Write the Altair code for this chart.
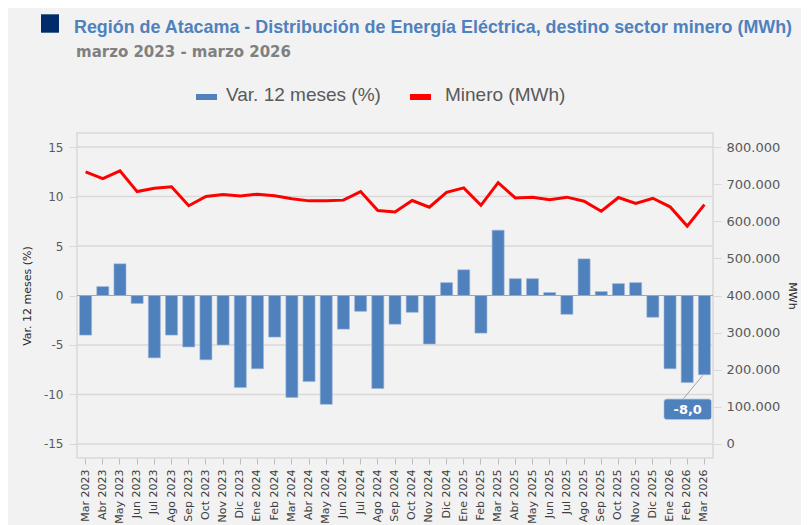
import altair as alt
import pandas as pd

months = ["Mar 2023", "Abr 2023", "May 2023", "Jun 2023", "Jul 2023", "Ago 2023",
          "Sep 2023", "Oct 2023", "Nov 2023", "Dic 2023", "Ene 2024", "Feb 2024",
          "Mar 2024", "Abr 2024", "May 2024", "Jun 2024", "Jul 2024", "Ago 2024",
          "Sep 2024", "Oct 2024", "Nov 2024", "Dic 2024", "Ene 2025", "Feb 2025",
          "Mar 2025", "Abr 2025", "May 2025", "Jun 2025", "Jul 2025", "Ago 2025",
          "Sep 2025", "Oct 2025", "Nov 2025", "Dic 2025", "Ene 2026", "Feb 2026",
          "Mar 2026"]

var_pct = [-4.0, 0.9, 3.2, -0.8, -6.3, -4.0, -5.2, -6.5, -5.0, -9.3, -7.4, -4.2,
           -10.3, -8.7, -11.0, -3.4, -1.6, -9.4, -2.9, -1.7, -4.9, 1.3, 2.6, -3.8,
           6.6, 1.7, 1.7, 0.3, -1.9, 3.7, 0.4, 1.2, 1.3, -2.2, -7.4, -8.8, -8.0]

minero = [733000, 715000, 736000, 680000, 689000, 693000, 642000, 667000, 672000,
          668000, 673000, 669000, 661000, 655000, 655000, 657000, 680000, 629000,
          625000, 656000, 638000, 678000, 690000, 643000, 704000, 663000, 665000,
          658000, 665000, 654000, 627000, 664000, 648000, 662000, 639000, 587000,
          645000]

left_ticks = [-15, -10, -5, 0, 5, 10, 15]
right_ticks = [0, 100000, 200000, 300000, 400000, 500000, 600000, 700000, 800000]

title_text = "Región de Atacama - Distribución de Energía Eléctrica, destino sector minero (MWh)"
subtitle_text = "marzo 2023 - marzo 2026"
legend_labels = ["Var. 12 meses (%)", "Minero (MWh)"]
annot_month = "Mar 2026"
annot_label = "-8,0"

df = pd.DataFrame({"mes": months, "var": var_pct, "minero": minero})
annot_df = df[df["mes"] == annot_month].assign(label=annot_label)
grid_df = pd.DataFrame({"var": [v for v in left_ticks if v != 0]})
one = pd.DataFrame({"k": [0]})

W, H = 636, 325
PL, PT, PR, PB = 69, 125, 88, 67
BLUE = "#4f81bd"
RED = "#ff0000"
GRID = "#d9d9d9"
BG = "#f2f2f2"
AXFONT = "DejaVu Sans"
TXT = "Liberation Sans"

x_enc = alt.X(
    "mes:N", sort=months,
    scale=alt.Scale(paddingInner=0.3, paddingOuter=0.15),
    axis=alt.Axis(title=None, labelAngle=-90, labelFont=AXFONT, labelFontSize=11,
                  labelColor="#404040", tickColor="#bfbfbf", tickSize=6,
                  labelPadding=5, domain=False, grid=False, zindex=1),
)

y_left = alt.Y(
    "var:Q",
    scale=alt.Scale(domain=[-16.42, 16.42], nice=False, zero=False),
    axis=alt.Axis(title="Var. 12 meses (%)", values=left_ticks,
                  labelExpr="'' + datum.value", labelFont=AXFONT, labelFontSize=12,
                  labelColor="#595959", tickColor=GRID, tickSize=8, labelPadding=6,
                  grid=False, domain=False, zindex=1,
                  titleFont=AXFONT, titleFontSize=11, titleFontWeight="normal",
                  titleColor="#262626", titleAngle=-90, titleX=-50, titleY=H / 2,
                  titleAlign="center", titleBaseline="middle"),
)

y_right = alt.Y(
    "minero:Q",
    scale=alt.Scale(domain=[-37900, 837900], nice=False, zero=False),
    axis=alt.Axis(title="MWh", orient="right", values=right_ticks,
                  labelExpr="replace(format(datum.value, ',d'), ',', '.')",
                  labelFont=AXFONT, labelFontSize=13, labelColor="#595959",
                  tickColor=GRID, tickSize=8, labelPadding=5, grid=False, domain=False,
                  zindex=1,
                  titleFont=AXFONT, titleFontSize=11, titleFontWeight="normal",
                  titleColor="#262626", titleAngle=90, titleX=78, titleY=H / 2,
                  titleAlign="center", titleBaseline="middle"),
)

# full background panel (drawn first)
panel = alt.Chart(one).mark_rect(color=BG).encode(
    x=alt.value(-PL), x2=alt.value(W + PR), y=alt.value(-PT), y2=alt.value(H + PB))

grid = alt.Chart(grid_df).mark_rule(color=GRID, strokeWidth=1.5).encode(y=y_left)

frame = alt.Chart(one).mark_rect(filled=False, stroke=GRID, strokeWidth=1.5).encode(
    x=alt.value(0), x2=alt.value(W), y=alt.value(0), y2=alt.value(H))

bars = alt.Chart(df).mark_bar(color=BLUE, stroke="#9cb6da", strokeWidth=0.6).encode(
    x=x_enc, y=y_left)

zero = alt.Chart(one).mark_rule(color="#a6a6a6", strokeWidth=1.2).encode(y=alt.datum(0))

leader = alt.Chart(annot_df).mark_point(
    shape="M-0.07,0.03L-0.9,1.03", size=2304, filled=False, stroke="#a6a6a6",
    strokeWidth=1, opacity=1).encode(x=x_enc, y=y_left)

box_path = ("M-0.875,-0.4375L0.875,-0.4375Q1,-0.4375 1,-0.3125L1,0.3125"
            "Q1,0.4375 0.875,0.4375L-0.875,0.4375Q-1,0.4375 -1,0.3125"
            "L-1,-0.3125Q-1,-0.4375 -0.875,-0.4375Z")
box = alt.Chart(annot_df).mark_point(
    shape=box_path, size=2304, filled=True, fill=BLUE, stroke="#e6edf6",
    strokeWidth=0.8, opacity=1, xOffset=-16.7, yOffset=34.7).encode(x=x_enc, y=y_left)

annot_text = alt.Chart(annot_df).mark_text(
    color="white", font=AXFONT, fontSize=13, fontWeight="bold",
    align="center", baseline="middle", dx=-16.7, dy=35).encode(
    x=x_enc, y=y_left, text="label:N")

line = alt.Chart(df).mark_line(color=RED, strokeWidth=3).encode(x=x_enc, y=y_right)

# title block
square = alt.Chart(one).mark_rect(color="#002b6b").encode(
    x=alt.value(-36), x2=alt.value(-18), y=alt.value(-118.7), y2=alt.value(-100.3))
title = alt.Chart(one).mark_text(
    text=title_text, font=TXT, fontSize=17.9, fontWeight="bold", color=BLUE,
    align="left", baseline="alphabetic").encode(x=alt.value(-3), y=alt.value(-100.3))
subtitle = alt.Chart(one).mark_text(
    text=subtitle_text, font=AXFONT, fontSize=15, fontWeight="bold", color="#808080",
    align="left", baseline="alphabetic").encode(x=alt.value(-1), y=alt.value(-76.3))

# legend
leg_blue = alt.Chart(one).mark_rect(color=BLUE).encode(
    x=alt.value(119), x2=alt.value(140), y=alt.value(-39), y2=alt.value(-33))
leg_red = alt.Chart(one).mark_rect(color=RED).encode(
    x=alt.value(333), x2=alt.value(354), y=alt.value(-39), y2=alt.value(-33))
leg_t1 = alt.Chart(one).mark_text(
    text=legend_labels[0], font=TXT, fontSize=19, color="#595959",
    align="left", baseline="alphabetic").encode(x=alt.value(149), y=alt.value(-31.7))
leg_t2 = alt.Chart(one).mark_text(
    text=legend_labels[1], font=TXT, fontSize=19, color="#595959",
    align="left", baseline="alphabetic").encode(x=alt.value(368), y=alt.value(-31.7))

left = alt.layer(panel, grid, frame, bars, zero, leader, box, annot_text,
                 square, title, subtitle, leg_blue, leg_red, leg_t1, leg_t2)

chart = alt.layer(left, line).resolve_scale(y="independent").properties(
    width=W, height=H,
    autosize=alt.AutoSizeParams(type="none"),
    padding={"left": PL, "top": PT, "right": PR, "bottom": PB},
    background=BG,
).configure_view(strokeWidth=0)

chart.save("out.html", embed_options={"renderer": "svg", "actions": False})
